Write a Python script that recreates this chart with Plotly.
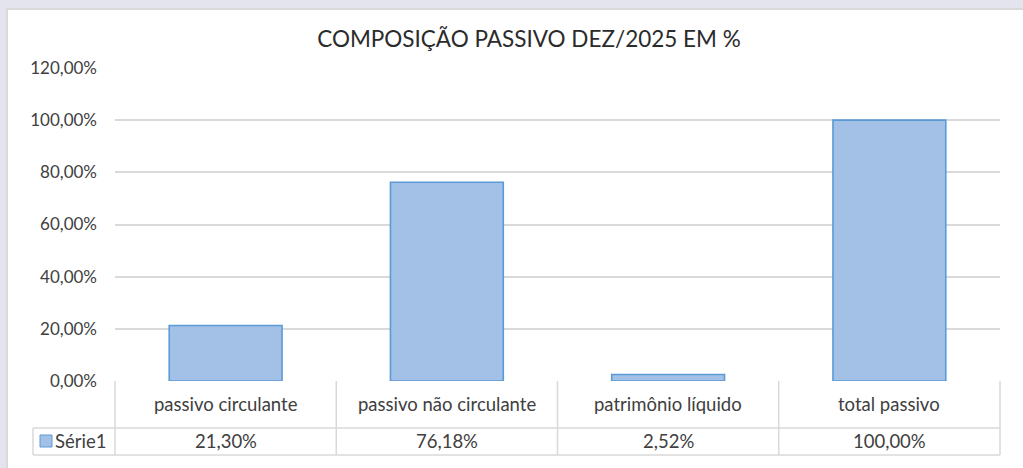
import plotly.graph_objects as go

categories = ["passivo circulante", "passivo não circulante", "patrimônio líquido", "total passivo"]
values = [0.2130, 0.7618, 0.0252, 1.0000]
series_name = "Série1"
title_text = "COMPOSIÇÃO PASSIVO DEZ/2025 EM %"
y_ticks = [0, 0.2, 0.4, 0.6, 0.8, 1.0, 1.2]

FONT = "Lato"
TXT = "#404040"
GRID = "#d9d9d9"
BAR_FILL = "#a3c1e7"
BAR_LINE = "#5b9bd5"
LBL = 18.5

W, H = 1023, 468
PX0, PX1, PY0, PY1 = 115, 1000, 381, 68  # plot area in pixels


def px(x):
    return (x - PX0) / (PX1 - PX0)


def py(y):
    return (PY0 - y) / (PY0 - PY1)


fig = go.Figure()
fig.add_trace(go.Bar(
    x=categories, y=values, width=0.51,
    marker=dict(color=BAR_FILL, line=dict(color=BAR_LINE, width=1.6)),
    name=series_name, showlegend=False, hoverinfo="skip",
))

shapes = []
# chart frame
shapes.append(dict(type="rect", xref="paper", yref="paper", x0=px(7), x1=px(1040), y0=py(9), y1=py(490),
                   fillcolor="white", line=dict(color=GRID, width=2), layer="below"))
# data table lines
line = dict(color=GRID, width=1.5)
row_top, row_mid, row_bot = 381, 428, 455
col_left = 33
col_edges = [PX0 + i * (PX1 - PX0) / len(categories) for i in range(len(categories) + 1)]
shapes.append(dict(type="line", xref="paper", yref="paper", x0=px(col_left), x1=px(PX1), y0=py(row_mid), y1=py(row_mid), line=line))
shapes.append(dict(type="line", xref="paper", yref="paper", x0=px(col_left), x1=px(PX1), y0=py(row_bot), y1=py(row_bot), line=line))
shapes.append(dict(type="line", xref="paper", yref="paper", x0=px(col_left), x1=px(col_left), y0=py(row_mid), y1=py(row_bot), line=line))
for xe in col_edges:
    shapes.append(dict(type="line", xref="paper", yref="paper", x0=px(xe), x1=px(xe), y0=py(row_top), y1=py(row_bot), line=line))
# legend key square
shapes.append(dict(type="rect", xref="paper", yref="paper", x0=px(40), x1=px(52), y0=py(435), y1=py(447),
                   fillcolor=BAR_FILL, line=dict(color=BAR_LINE, width=1)))

annotations = []
for i, (c, v) in enumerate(zip(categories, values)):
    xc = (col_edges[i] + col_edges[i + 1]) / 2
    annotations.append(dict(xref="paper", yref="paper", x=px(xc), y=py(404), text=c, showarrow=False,
                            xanchor="center", yanchor="middle", font=dict(family=FONT, size=LBL, color=TXT)))
    val = f"{v * 100:.2f}%".replace(".", ",")
    annotations.append(dict(xref="paper", yref="paper", x=px(xc), y=py(441), text=val, showarrow=False,
                            xanchor="center", yanchor="middle", font=dict(family=FONT, size=LBL, color=TXT)))
annotations.append(dict(xref="paper", yref="paper", x=px(53), y=py(441), text=series_name, showarrow=False,
                        xanchor="left", yanchor="middle", font=dict(family=FONT, size=LBL, color=TXT)))

fig.update_layout(
    width=W, height=H,
    margin=dict(l=PX0, r=W - PX1, t=PY1, b=H - PY0, autoexpand=False),
    paper_bgcolor="#e4e4ee",
    plot_bgcolor="rgba(0,0,0,0)",
    separators=",.",
    title=dict(text=title_text, xref="container", x=529 / W, xanchor="center", y=1 - 39 / H, yanchor="middle",
               font=dict(family=FONT, size=22.5, color="#2b2b2b")),
    xaxis=dict(showticklabels=False, showgrid=False, zeroline=False, showline=False, ticks=""),
    yaxis=dict(range=[0, 1.2], tickvals=y_ticks, tickformat=".2%", showgrid=True, gridcolor=GRID, gridwidth=1.5,
               zeroline=False, showline=False, ticks="", ticklabelstandoff=17,
               tickfont=dict(family=FONT, size=17, color=TXT)),
    shapes=shapes,
    annotations=annotations,
    bargap=0.49,
)

fig.write_html("out.html", config={"displayModeBar": False},
               post_script="document.body.style.margin='0';document.body.style.overflow='hidden';")
